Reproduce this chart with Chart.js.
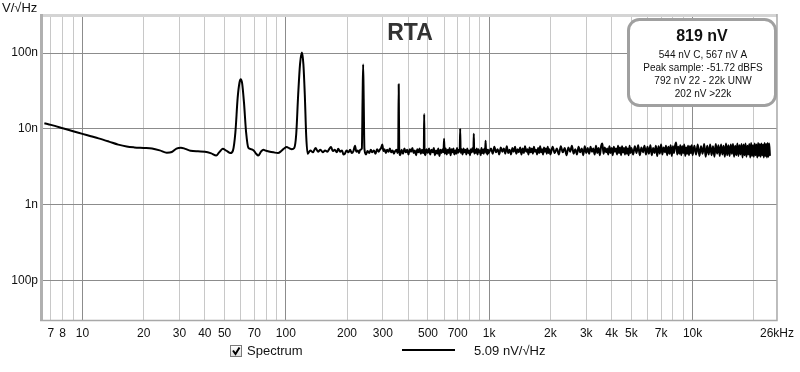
<!DOCTYPE html>
<html>
<head>
<meta charset="utf-8">
<script src="https://cdn.jsdelivr.net/npm/chart.js@4.4.1/dist/chart.umd.min.js"></script>
<style>
  html, body { margin: 0; padding: 0; background: #fff; }
  canvas { display: block; }
</style>
</head>
<body>
<canvas id="rta" width="800" height="372"></canvas>
<script>
// spectrum, [frequency Hz, density nV/rtHz]
const lowBand = [
  [6.5, 11.9], [7, 11.3], [8, 10.2], [9, 9.3], [10, 8.6], [11, 8.0], [12, 7.5], [13.5, 6.8],
  [15, 6.2], [16.5, 5.85], [18, 5.7], [20, 5.6], [22, 5.5], [24, 5.2], [26, 4.85], [27.5, 4.95],
  [29, 5.5], [30.5, 5.65], [32, 5.45], [34, 5.15], [37, 5.05], [40, 5.0], [43, 4.75], [45.5, 4.45],
  [47, 4.9], [49, 5.45], [51, 5.15], [53.5, 4.8], [55, 5.2], [56.5, 9], [58, 26], [59.2, 41],
  [60, 45.3], [61, 40], [62.3, 22], [63.8, 9], [65.5, 5.6], [67.5, 5.4], [69.5, 5.2], [71.5, 4.7],
  [73.2, 4.45], [75.5, 5.0], [77.5, 5.3], [80, 5.15], [83.5, 5.0], [87, 4.9], [91.5, 4.8], [95, 5.1],
  [98, 5.5], [101, 5.75], [104, 5.55], [107, 5.4], [110, 5.6], [112.5, 8.5], [115, 28], [117.5, 72],
  [120, 102], [122, 72], [124, 28], [126, 8], [128, 4.7]
];
const midBand = [
  [132, 5.2], [136, 4.9], [140, 5.6], [144, 5.0], [148, 5.3], [152, 4.9], [156, 5.2], [160, 5.0],
  [164, 5.5], [167, 5.75], [170, 5.1], [174, 5.3], [178, 4.9], [181, 5.45], [185, 5.0], [189, 5.2],
  [192, 4.6], [195, 4.7], [199, 5.2], [203, 4.9], [207, 5.3], [211, 4.8], [215, 5.1], [219, 6.0],
  [222, 5.0], [226, 5.2], [229, 4.8], [232, 5.3], [236.5, 5.5], [238.5, 25], [240, 70.8], [241.5, 25],
  [243.5, 5.5], [248, 4.6], [252, 5.1], [257, 4.8], [262, 5.3], [266, 4.9], [271, 5.2], [276, 4.7],
  [281, 5.4], [286, 5.0], [290, 5.3], [294, 5.6], [298, 6.2], [302, 5.1], [306, 5.4], [310, 4.8],
  [315, 5.3], [320, 5.0], [325, 5.5], [330, 4.9], [335, 5.2], [340, 4.7], [345, 5.1], [350, 5.3],
  [354, 4.8], [357, 5.5], [359, 38.8], [361, 5.5], [365, 4.5], [371, 5.3], [377, 4.7], [383, 5.5],
  [389, 4.9], [395, 5.3], [401, 4.6], [407, 5.4], [413, 5.0], [419, 5.6], [425, 4.8], [431, 5.2],
  [437, 4.5], [443, 5.4], [449, 4.9], [455, 5.5], [461, 4.7], [467, 5.3], [473, 4.8], [477, 5.2],
  [479, 15.7], [481, 5.0], [485, 4.5], [492, 5.4], [499, 4.8], [506, 5.5], [513, 4.6], [520, 5.3],
  [527, 4.9], [534, 5.6], [541, 4.5], [548, 5.2], [555, 4.7], [562, 5.5], [569, 4.4], [576, 5.3],
  [583, 4.8], [590, 5.4], [596, 4.9], [600, 7.4], [604, 4.7], [611, 5.5], [618, 4.6], [625, 5.3],
  [632, 4.8], [639, 5.6], [646, 4.5], [653, 5.4], [660, 4.9], [667, 5.5], [674, 4.6], [681, 5.2],
  [688, 4.7], [695, 5.6], [702, 4.8], [709, 5.3], [716, 5.0], [720, 10], [724, 4.8], [732, 5.4],
  [740, 4.6], [748, 5.5], [756, 4.9], [764, 5.3], [772, 4.6], [780, 5.5], [788, 4.8], [796, 5.2],
  [804, 4.5], [812, 5.4], [820, 4.9], [828, 5.6], [836, 5.0], [840, 8.6], [844, 4.7], [852, 5.3],
  [860, 4.8], [868, 5.5], [876, 4.6], [884, 5.4], [892, 4.9], [900, 5.2], [908, 4.5], [916, 5.6],
  [924, 4.8], [932, 5.3], [940, 4.7], [948, 5.5], [955, 5.0], [960, 7.0], [965, 4.8], [972, 5.4],
  [980, 4.6], [988, 5.3], [995, 4.8]
];
const highBand = [
  [1020, 5.5], [1040, 4.7], [1060, 5.8], [1080, 4.9], [1100, 5.4], [1120, 4.6], [1140, 5.7], [1160, 5.0],
  [1180, 5.5], [1200, 4.7], [1220, 5.9], [1240, 4.8], [1260, 5.3], [1280, 4.6], [1300, 5.6], [1320, 5.0],
  [1340, 5.8], [1360, 4.7], [1380, 5.4], [1400, 4.9], [1420, 5.7], [1440, 4.6], [1460, 5.5], [1480, 4.8],
  [1500, 5.9], [1520, 5.0], [1540, 5.4], [1560, 4.6], [1580, 5.7], [1600, 4.9], [1620, 5.5], [1640, 4.7],
  [1660, 5.8], [1680, 5.0], [1700, 5.3], [1720, 4.6], [1740, 5.6], [1760, 4.8], [1780, 5.9], [1800, 4.9],
  [1820, 5.4], [1840, 4.6], [1860, 5.7], [1880, 5.0], [1900, 5.5], [1920, 4.7], [1940, 5.8], [1960, 4.8],
  [1980, 5.4], [2000, 4.6], [2050, 5.8], [2100, 4.8], [2150, 5.5], [2200, 4.6], [2250, 5.9], [2300, 4.9],
  [2350, 5.6], [2400, 4.5], [2450, 5.7], [2500, 5.0], [2550, 6.0], [2600, 4.7], [2650, 5.4], [2700, 4.6],
  [2750, 5.8], [2800, 4.9], [2850, 5.5], [2900, 4.5], [2950, 5.9], [3000, 4.8], [3050, 5.6], [3100, 4.7],
  [3150, 5.8], [3200, 5.0], [3250, 5.5], [3300, 4.6], [3350, 6.0], [3400, 4.8], [3450, 5.6], [3500, 4.5],
  [3550, 5.9], [3600, 6.4], [3650, 4.7], [3700, 5.7], [3750, 4.9], [3800, 5.5], [3850, 4.6], [3900, 5.9],
  [3950, 4.8], [4000, 5.6], [4050, 4.5], [4100, 5.8], [4150, 5.0], [4200, 5.5], [4250, 4.6], [4300, 6.0],
  [4350, 4.8], [4400, 5.7], [4450, 4.5], [4500, 5.9], [4550, 4.9], [4600, 5.6], [4650, 4.6], [4700, 5.8],
  [4750, 4.7], [4800, 5.5], [4850, 4.5], [4900, 6.0], [4950, 4.8], [5000, 5.6], [5100, 4.6], [5200, 5.9],
  [5300, 4.8], [5400, 6.1], [5500, 4.5], [5600, 5.7], [5700, 4.9], [5800, 6.0], [5900, 4.6], [6000, 5.8],
  [6100, 4.7], [6200, 6.1], [6300, 4.5], [6400, 5.6], [6500, 4.8], [6600, 6.0], [6700, 4.4], [6800, 5.9],
  [6900, 4.7], [7000, 6.2], [7100, 4.6], [7200, 5.7], [7300, 4.9], [7400, 6.0], [7500, 4.5], [7600, 5.8],
  [7700, 4.7], [7800, 6.1], [7900, 4.4], [8000, 5.9], [8100, 4.8], [8200, 6.0], [8300, 6.6], [8400, 4.6],
  [8500, 5.8], [8600, 4.7], [8700, 6.1], [8800, 4.5], [8900, 5.9], [9000, 4.8], [9100, 6.2], [9200, 4.4],
  [9300, 5.7], [9400, 4.7], [9500, 6.0], [9600, 4.5], [9700, 5.9], [9800, 4.8], [9900, 6.1], [10000, 4.5],
  [10200, 6.0], [10400, 4.6], [10600, 6.2], [10800, 4.4], [11000, 5.9], [11200, 4.7], [11400, 6.3], [11600, 4.3],
  [11800, 6.0], [12000, 4.6], [12200, 6.2], [12400, 4.5], [12600, 5.9], [12800, 4.3], [13000, 6.3], [13200, 4.7],
  [13400, 6.1], [13600, 4.4], [13800, 6.2], [14000, 4.6], [14200, 6.0], [14400, 4.3], [14600, 6.4], [14800, 4.5],
  [15000, 6.1], [15200, 4.4], [15400, 6.2], [15600, 4.7], [15800, 6.3], [16000, 4.3], [16200, 6.0], [16400, 4.5],
  [16600, 6.4], [16800, 4.4], [17000, 6.1], [17200, 4.6], [17400, 6.3], [17600, 4.2], [17800, 6.2], [18000, 4.5],
  [18200, 6.4], [18400, 4.3], [18600, 6.0], [18800, 4.6], [19000, 6.3], [19200, 4.2], [19400, 6.5], [19600, 4.4],
  [19800, 6.1], [20000, 4.3], [20200, 6.4], [20400, 4.5], [20600, 6.2], [20800, 4.2], [21000, 6.5], [21200, 4.4],
  [21400, 6.3], [21600, 4.3], [21800, 6.4], [22000, 4.5], [22200, 6.2], [22400, 4.2], [22600, 6.5], [22800, 4.4],
  [23000, 6.3], [23200, 4.2], [23400, 6.5], [23600, 4.3], [23800, 6.4], [24000, 4.4]
];

// axes
const xGridHz = [7, 8, 9, 10, 20, 30, 40, 50, 60, 70, 80, 90, 100, 200, 300, 400, 500, 600, 700, 800, 900,
  1000, 2000, 3000, 4000, 5000, 6000, 7000, 8000, 9000, 10000, 20000, 26000];
const xTickHz = [7, 8, 10, 20, 30, 40, 50, 70, 100, 200, 300, 500, 700, 1000, 2000, 3000, 4000, 5000, 7000, 10000, 26000];
const xTickLabels = ['7', '8', '10', '20', '30', '40', '50', '70', '100', '200', '300', '500', '700',
  '1k', '2k', '3k', '4k', '5k', '7k', '10k', '26kHz'];
const yTickNv = [0.1, 1, 10, 100];
const yTickLabels = ['100p', '1n', '10n', '100n'];

const infoLines = ['819 nV', '544 nV C, 567 nV A', 'Peak sample: -51.72 dBFS', '792 nV 22 - 22k UNW', '202 nV >22k'];
const legendName = 'Spectrum';
const legendValue = '5.09 nV/\u221AHz';
const yUnit = 'V/\u221AHz';

const FONT = '"Liberation Sans", Arial, sans-serif';
const points = lowBand.concat(midBand, highBand).map(p => ({ x: p[0], y: p[1] }));

function isDecade(v) {
  const l = Math.log10(v);
  return Math.abs(l - Math.round(l)) < 1e-9;
}

function roundBox(ctx, x, y, w, h, r) {
  ctx.beginPath();
  ctx.moveTo(x + r, y);
  ctx.arcTo(x + w, y, x + w, y + h, r);
  ctx.arcTo(x + w, y + h, x, y + h, r);
  ctx.arcTo(x, y + h, x, y, r);
  ctx.arcTo(x, y, x + w, y, r);
  ctx.closePath();
}

const extras = {
  id: 'extras',
  beforeDraw(chart) {
    const ctx = chart.ctx;
    ctx.save();
    ctx.fillStyle = '#fff';
    ctx.fillRect(0, 0, chart.width, chart.height);
    ctx.restore();
  },
  afterDatasetsDraw(chart) {
    const ctx = chart.ctx;
    const a = chart.chartArea;
    ctx.save();
    // plot frame, shaded on top and left
    ctx.fillStyle = '#d4d4d4';
    ctx.fillRect(a.left - 3, a.top - 3, a.right - a.left + 3, 3);
    ctx.fillStyle = '#b0b0b0';
    ctx.fillRect(a.left - 3, a.top - 3, 3, a.bottom - a.top + 3);
    ctx.strokeStyle = '#a8a8a8';
    ctx.lineWidth = 1.5;
    ctx.beginPath();
    ctx.moveTo(a.right, a.top - 3);
    ctx.lineTo(a.right, a.bottom + 0.5);
    ctx.lineTo(a.left - 3, a.bottom + 0.5);
    ctx.stroke();
    // title
    ctx.fillStyle = '#333';
    ctx.font = 'bold 23px ' + FONT;
    ctx.textAlign = 'center';
    ctx.textBaseline = 'middle';
    ctx.fillText('RTA', (a.left + a.right) / 2, 34);
    ctx.restore();
  },
  afterDraw(chart) {
    const ctx = chart.ctx;
    ctx.save();
    // info box
    roundBox(ctx, 628.5, 19.5, 147, 86, 11);
    ctx.fillStyle = '#fff';
    ctx.fill();
    ctx.strokeStyle = '#a0a0a0';
    ctx.lineWidth = 3;
    ctx.stroke();
    ctx.fillStyle = '#111';
    ctx.textAlign = 'center';
    ctx.textBaseline = 'middle';
    ctx.font = 'bold 16px ' + FONT;
    ctx.fillText(infoLines[0], 702, 37);
    ctx.font = '10px ' + FONT;
    for (let i = 1; i < infoLines.length; i++) {
      ctx.fillText(infoLines[i], 703, 55.5 + (i - 1) * 13);
    }
    // axis unit
    ctx.textAlign = 'left';
    ctx.font = '13px ' + FONT;
    ctx.fillText(yUnit, 2, 8);
    // legend: checkbox, name, line sample, value
    const grad = ctx.createLinearGradient(0, 346, 0, 357);
    grad.addColorStop(0, '#ffffff');
    grad.addColorStop(1, '#dcdcdc');
    ctx.fillStyle = grad;
    ctx.fillRect(230.5, 345.5, 11, 11);
    ctx.strokeStyle = '#7a7a7a';
    ctx.lineWidth = 1;
    ctx.strokeRect(230.5, 345.5, 11, 11);
    ctx.strokeStyle = '#000';
    ctx.lineWidth = 2;
    ctx.beginPath();
    ctx.moveTo(233, 350.5);
    ctx.lineTo(235.5, 354);
    ctx.lineTo(239.5, 347.5);
    ctx.stroke();
    ctx.fillStyle = '#111';
    ctx.font = '13px ' + FONT;
    ctx.fillText(legendName, 247, 351);
    ctx.beginPath();
    ctx.moveTo(402, 350);
    ctx.lineTo(455, 350);
    ctx.stroke();
    ctx.fillText(legendValue, 474, 351);
    ctx.restore();
  }
};

new Chart(document.getElementById('rta'), {
  type: 'line',
  data: {
    datasets: [{
      label: legendName,
      data: points,
      borderColor: '#000',
      borderWidth: 2,
      borderJoinStyle: 'round',
      pointRadius: 0,
      cubicInterpolationMode: 'monotone',
      fill: false
    }]
  },
  options: {
    responsive: false,
    animation: false,
    layout: { padding: { top: 17, right: 22, bottom: 0, left: 0 } },
    plugins: { legend: { display: false }, tooltip: { enabled: false }, title: { display: false } },
    scales: {
      x: {
        type: 'logarithmic',
        min: 6.4,
        max: 26000,
        afterBuildTicks: s => { s.ticks = xGridHz.map(v => ({ value: v })); },
        afterFit: s => { s.height = 52; },
        border: { display: false },
        grid: {
          drawTicks: false,
          lineWidth: 1,
          color: c => {
            const v = c.tick ? c.tick.value : 0;
            if (v === 26000) return 'rgba(0,0,0,0)';
            return isDecade(v) ? '#8c8c8c' : '#c8c8c8';
          }
        },
        ticks: {
          autoSkip: false,
          maxRotation: 0,
          minRotation: 0,
          padding: 6,
          color: '#111',
          font: { family: FONT, size: 12 },
          callback: v => {
            const i = xTickHz.indexOf(v);
            return i >= 0 ? xTickLabels[i] : '';
          }
        }
      },
      y: {
        type: 'logarithmic',
        min: 0.03,
        max: 300,
        afterBuildTicks: s => { s.ticks = yTickNv.map(v => ({ value: v })); },
        afterFit: s => { s.width = 43; },
        border: { display: false },
        grid: { drawTicks: false, lineWidth: 1, color: '#8c8c8c' },
        ticks: {
          padding: 5,
          color: '#111',
          font: { family: FONT, size: 12 },
          callback: v => {
            const i = yTickNv.indexOf(v);
            return i >= 0 ? yTickLabels[i] : '';
          }
        }
      }
    }
  },
  plugins: [extras]
});
</script>
</body>
</html>
